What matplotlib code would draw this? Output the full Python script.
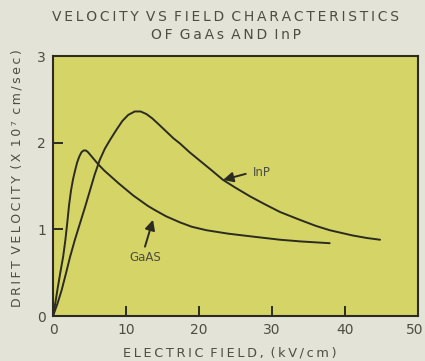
import matplotlib
matplotlib.use("Agg")
import matplotlib.pyplot as plt
from matplotlib.transforms import ScaledTranslation

# ---- data ----
gaas_field = [0, 0.3, 0.6, 1.0, 1.4, 1.7, 1.96, 2.2, 2.47, 2.75, 3.0, 3.3, 3.6, 3.9, 4.2, 4.5,
              4.8, 5.2, 5.6, 6.2, 7.0, 7.8, 9.0, 10, 11, 12, 13, 14, 15.5, 17.4, 19, 21, 24,
              28, 31.1, 34, 37.9]
gaas_vel = [0, 0.14, 0.30, 0.50, 0.69, 0.88, 1.08, 1.28, 1.45, 1.58, 1.67, 1.77, 1.84, 1.89,
            1.91, 1.91, 1.89, 1.85, 1.81, 1.75, 1.68, 1.62, 1.53, 1.46, 1.39, 1.33, 1.27,
            1.22, 1.15, 1.08, 1.03, 0.99, 0.95, 0.91, 0.88, 0.86, 0.84]

inp_field = [0, 0.6, 1.19, 1.8, 2.33, 3.0, 3.7, 4.4, 5.07, 5.7, 6.4, 7.1, 7.8, 8.7, 9.5, 10.3,
             11.2, 12.0, 12.8, 13.6, 14.5, 15.5, 16.5, 17.4, 18.7, 20, 21.6, 23.3, 25, 27,
             29, 31.1, 33.8, 36, 37.9, 41, 43, 44.8]
inp_vel = [0, 0.14, 0.30, 0.50, 0.68, 0.88, 1.07, 1.26, 1.45, 1.63, 1.80, 1.93, 2.03, 2.15,
           2.25, 2.32, 2.36, 2.36, 2.33, 2.28, 2.21, 2.13, 2.05, 1.99, 1.89, 1.80, 1.69,
           1.57, 1.48, 1.38, 1.29, 1.20, 1.11, 1.04, 0.99, 0.93, 0.90, 0.88]

x_ticks = [0, 10, 20, 30, 40, 50]
y_ticks = [0, 1, 2, 3]

title_lines = ["VELOCITY VS FIELD CHARACTERISTICS", "OF GaAs AND InP"]
x_label = "ELECTRIC FIELD, (kV/cm)"
y_label = "DRIFT VELOCITY (X 10\u2077 cm/sec)"


def spaced(s, sep="\u2009"):
    """Letter-spaced rendering (the original uses wide tracking)."""
    out = ""
    for i, ch in enumerate(s):
        out += ch
        if i < len(s) - 1 and ch != " ":
            out += sep
    return out


# ---- styling ----
bg = (0.894, 0.890, 0.843)
plot_bg = (0.835, 0.830, 0.400)
ink = (0.17, 0.17, 0.13)
txt = (0.30, 0.30, 0.25)

fig = plt.figure(figsize=(4.25, 3.61), dpi=100, facecolor=bg)
ax = fig.add_axes([53 / 425, 45 / 361, 365 / 425, 260 / 361])
ax.set_facecolor(plot_bg)

ax.plot(gaas_field, gaas_vel, color=ink, lw=1.4, solid_capstyle="round",
        solid_joinstyle="round")
ax.plot(inp_field, inp_vel, color=ink, lw=1.4, solid_capstyle="round",
        solid_joinstyle="round")

ax.set_xlim(0, 50)
ax.set_ylim(0, 3)
ax.set_xticks(x_ticks)
ax.set_yticks(y_ticks)
ax.tick_params(direction="in", length=7, width=1.4, color=ink, labelcolor=txt,
               labelsize=10)
ax.tick_params(axis="x", pad=5)
ax.tick_params(axis="y", pad=5)
for s in ax.spines.values():
    s.set_color(ink)
    s.set_linewidth(1.5)

# keep the last x tick label inside the figure edge
last = ax.get_xticklabels()[-1]
last.set_transform(last.get_transform() + ScaledTranslation(-3 / 100, 0, fig.dpi_scale_trans))

fig.text(226 / 425, 1 - 17 / 361, spaced(title_lines[0]), ha="center", va="center",
         fontsize=10, color=txt)
fig.text(226 / 425, 1 - 35 / 361, spaced(title_lines[1]), ha="center", va="center",
         fontsize=10, color=txt)

fig.text(230 / 425, 1 - 353 / 361, spaced(x_label), ha="center", va="center",
         fontsize=9.3, color=txt)
fig.text(17 / 425, 1 - 178 / 361, spaced(y_label), ha="center", va="center",
         fontsize=9, color=txt, rotation=90)

arrow = dict(arrowstyle="-|>,head_length=0.6,head_width=0.3", color=ink, lw=1.4,
             shrinkA=0, shrinkB=0)
ax.annotate("", xy=(23.3, 1.57), xytext=(26.4, 1.64), arrowprops=arrow)
ax.text(27.4, 1.66, "InP", ha="left", va="center", fontsize=8.5, color=txt)
ax.annotate("", xy=(13.7, 1.11), xytext=(12.6, 0.80), arrowprops=arrow)
ax.text(12.7, 0.67, "GaAS", ha="center", va="center", fontsize=8.5, color=txt)

fig.savefig("out.png", dpi=100, facecolor=bg)
